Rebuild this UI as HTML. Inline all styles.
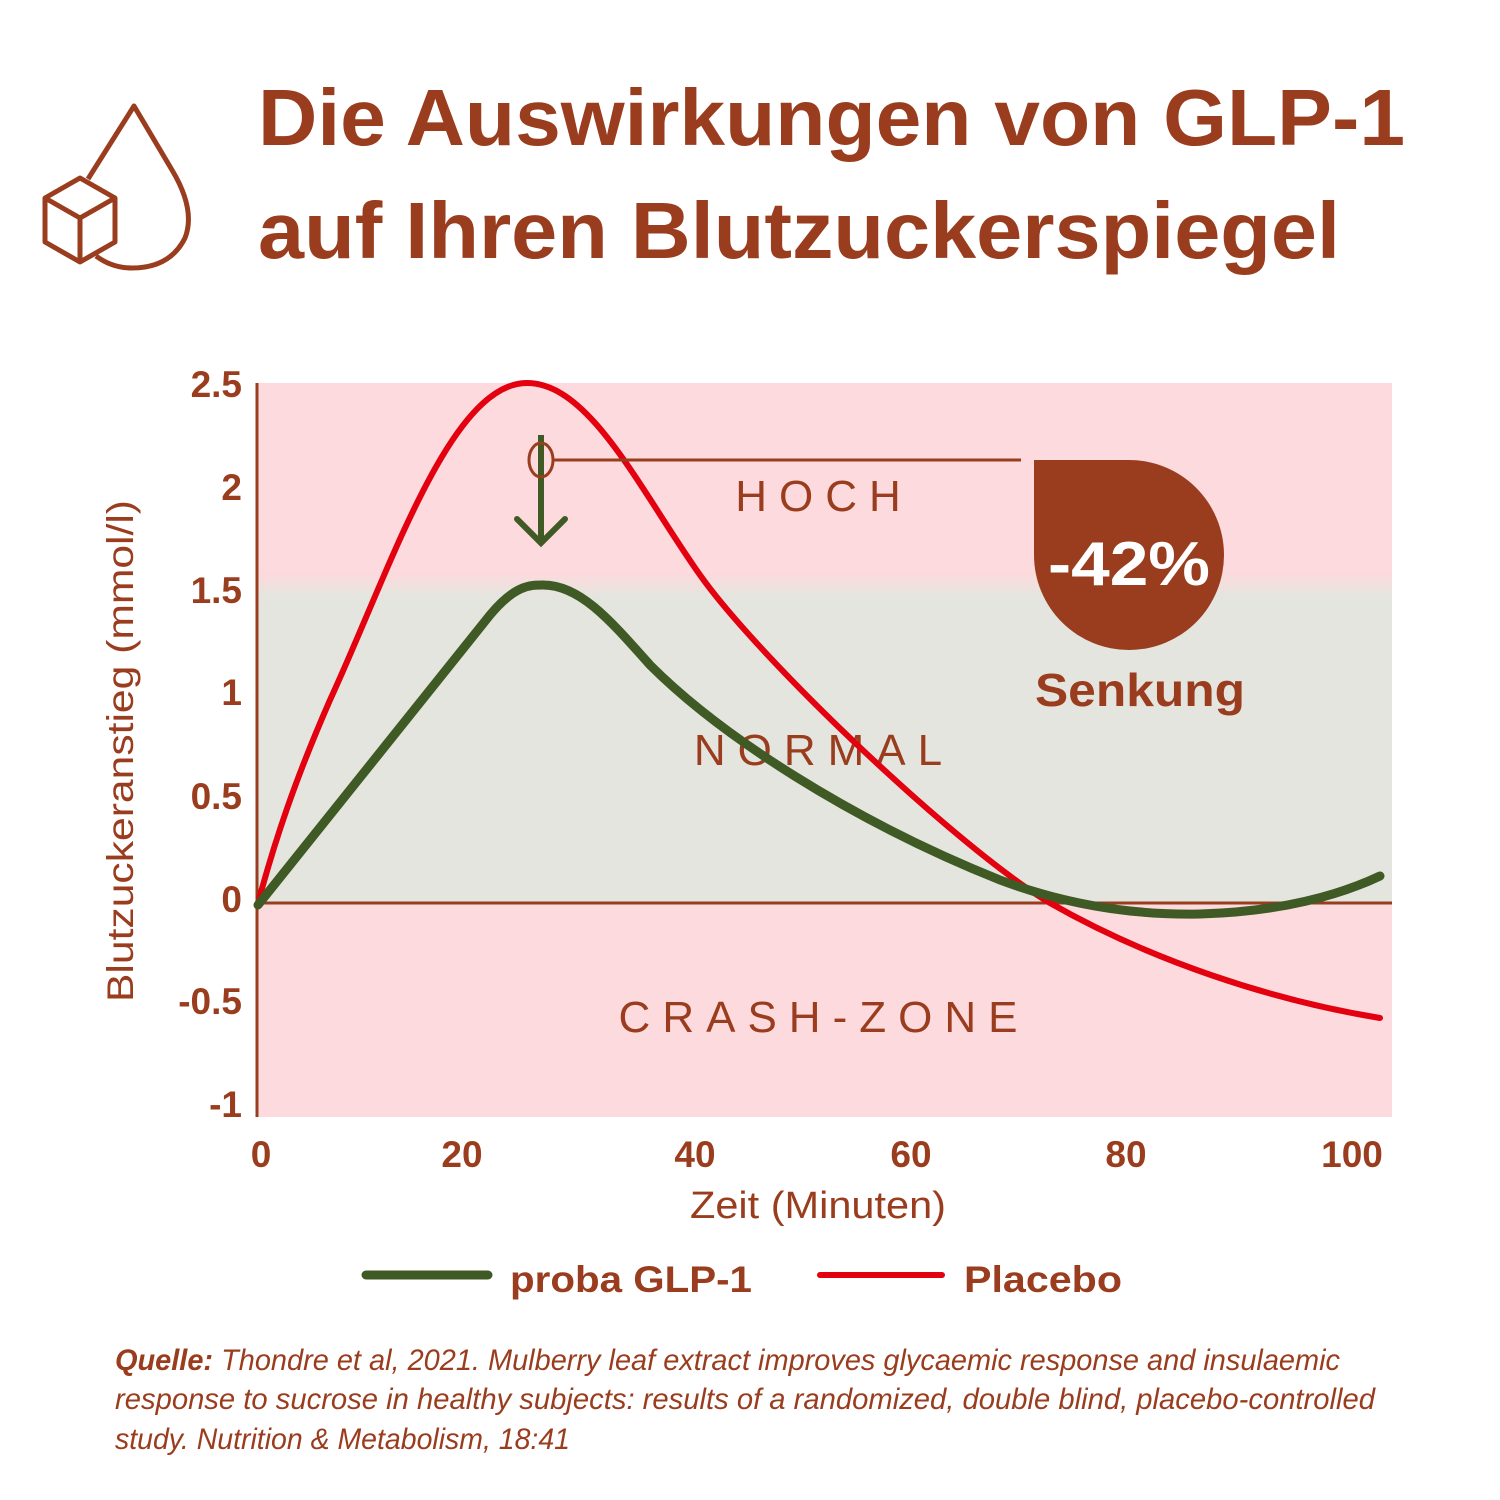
<!DOCTYPE html>
<html><head><meta charset="utf-8"><style>html,body{margin:0;padding:0;background:#fff}svg{display:block}</style></head>
<body>
<svg width="1500" height="1500" viewBox="0 0 1500 1500" xmlns="http://www.w3.org/2000/svg" font-family="Liberation Sans, sans-serif">
<defs>
<linearGradient id="bg" x1="0" y1="383" x2="0" y2="1117" gradientUnits="userSpaceOnUse">
<stop offset="0" stop-color="#fcdadd"/>
<stop offset="0.26" stop-color="#fcdadd"/>
<stop offset="0.29" stop-color="#e5e5df"/>
<stop offset="0.71" stop-color="#e5e5df"/>
<stop offset="0.712" stop-color="#fcdadd"/>
<stop offset="1" stop-color="#fcdadd"/>
</linearGradient>
</defs>
<g fill="none" stroke="#9a3d1e" stroke-width="5" stroke-linejoin="round">
<path d="M88,179 L134,106 L172,170 Q196,210 185,238 Q170,268 132,268 Q112,268 96,256"/>
<path d="M80,178 L115,198 L115,242 L80,262 L45,242 L45,198 Z M45,198 L80,218 L115,198 M80,218 L80,262"/>
</g>
<g fill="#9a3d1e" font-weight="bold" font-size="80">
<text x="258" y="145" textLength="1147" lengthAdjust="spacingAndGlyphs">Die Auswirkungen von GLP-1</text>
<text x="258" y="258" textLength="1082" lengthAdjust="spacingAndGlyphs">auf Ihren Blutzuckerspiegel</text>
</g>
<rect x="257" y="383" width="1135" height="734" fill="url(#bg)"/>
<line x1="257" y1="383" x2="257" y2="1117" stroke="#9a3d1e" stroke-width="3"/>
<line x1="257" y1="903" x2="1392" y2="903" stroke="#9a3d1e" stroke-width="3"/>
<g fill="#9a3d1e" font-weight="bold" font-size="37" text-anchor="end">
<text x="242" y="397">2.5</text><text x="242" y="500">2</text><text x="242" y="603">1.5</text>
<text x="242" y="705">1</text><text x="242" y="809">0.5</text><text x="242" y="912">0</text>
<text x="242" y="1014">-0.5</text><text x="242" y="1117">-1</text>
</g>
<g fill="#9a3d1e" font-weight="bold" font-size="37" text-anchor="middle">
<text x="261" y="1167">0</text><text x="462" y="1167">20</text><text x="695" y="1167">40</text>
<text x="911" y="1167">60</text><text x="1126" y="1167">80</text><text x="1352" y="1167">100</text>
</g>
<text x="690" y="1218" fill="#9a3d1e" font-size="38" textLength="256" lengthAdjust="spacingAndGlyphs">Zeit (Minuten)</text>
<text transform="translate(133,1002) rotate(-90)" fill="#9a3d1e" font-size="37" textLength="502" lengthAdjust="spacingAndGlyphs">Blutzuckeranstieg (mmol/l)</text>
<g fill="#9a3d1e" font-size="44" text-anchor="middle" letter-spacing="12">
<text x="824" y="511">HOCH</text>
<text x="824" y="765">NORMAL</text>
<text x="824" y="1032">CRASH-ZONE</text>
</g>
<path d="M258,903 C275,840 295,780 330,700 C390,570 450,383 527,383 C590,383 640,490 700,575 C760,660 960,850 1050,903 C1150,960 1270,1000 1380,1018" fill="none" stroke="#e3000f" stroke-width="6" stroke-linecap="round"/>
<path d="M258,905 L490,615 C515,585 530,585 543,585 C580,585 610,620 650,665 C720,735 850,820 1000,880 C1080,910 1150,915 1200,914 C1280,912 1340,895 1380,876" fill="none" stroke="#3f5a24" stroke-width="9" stroke-linecap="round" stroke-linejoin="round"/>
<line x1="541" y1="435" x2="541" y2="543" stroke="#3f5a24" stroke-width="6"/>
<path d="M517,519 L541,543 L565,519" fill="none" stroke="#3f5a24" stroke-width="6" stroke-linecap="round"/>
<ellipse cx="541" cy="460" rx="12" ry="17" fill="none" stroke="#9a3d1e" stroke-width="3"/>
<line x1="553" y1="460" x2="1021" y2="460" stroke="#9a3d1e" stroke-width="3"/>
<path d="M1034,460 H1128 A95,95 0 1 1 1034,555 Z" fill="#9a3d1e"/>
<text x="1048" y="585" fill="#fff" font-weight="bold" font-size="62" textLength="162" lengthAdjust="spacingAndGlyphs">-42%</text>
<text x="1035" y="706" fill="#9a3d1e" font-weight="bold" font-size="46" textLength="210" lengthAdjust="spacingAndGlyphs">Senkung</text>
<line x1="366" y1="1275" x2="488" y2="1275" stroke="#3f5a24" stroke-width="9" stroke-linecap="round"/>
<text x="510" y="1292" fill="#9a3d1e" font-weight="bold" font-size="37" textLength="242" lengthAdjust="spacingAndGlyphs">proba GLP-1</text>
<line x1="820" y1="1275" x2="942" y2="1275" stroke="#e3000f" stroke-width="6" stroke-linecap="round"/>
<text x="964" y="1292" fill="#9a3d1e" font-weight="bold" font-size="37" textLength="158" lengthAdjust="spacingAndGlyphs">Placebo</text>
<g fill="#9a3d1e" font-size="30" font-style="italic">
<text x="115" y="1370" textLength="1225" lengthAdjust="spacingAndGlyphs"><tspan font-weight="bold">Quelle:</tspan> Thondre et al, 2021. Mulberry leaf extract improves glycaemic response and  insulaemic</text>
<text x="115" y="1409" textLength="1260" lengthAdjust="spacingAndGlyphs">response to sucrose in healthy subjects: results of a randomized,  double blind, placebo-controlled</text>
<text x="115" y="1449" textLength="455" lengthAdjust="spacingAndGlyphs">study. Nutrition &amp; Metabolism, 18:41</text>
</g>
</svg>
</body></html>
